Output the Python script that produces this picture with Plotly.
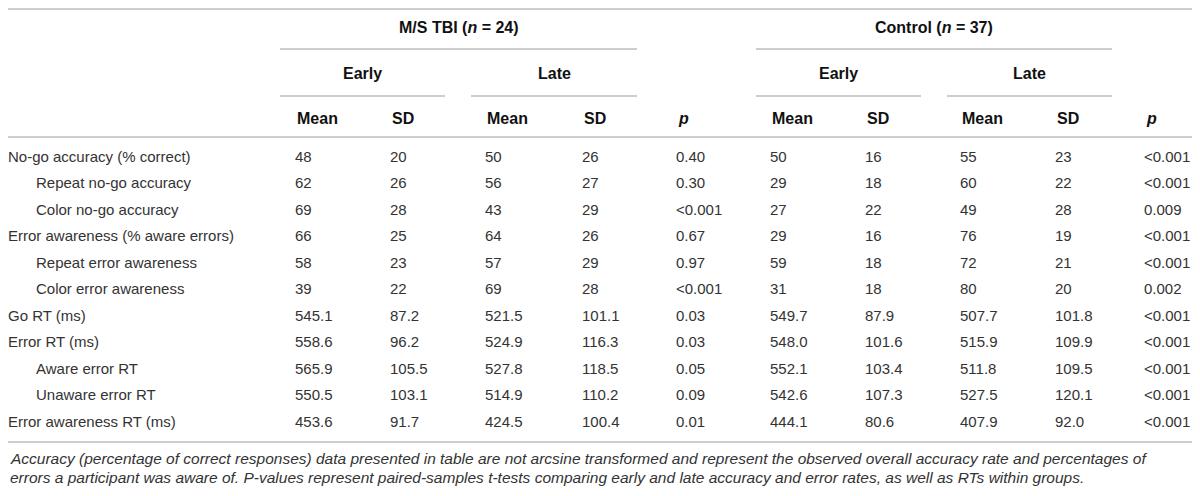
import plotly.graph_objects as go

# row labels (True = indented sub-row)
row_labels = [
    "No-go accuracy (% correct)", "Repeat no-go accuracy", "Color no-go accuracy",
    "Error awareness (% aware errors)", "Repeat error awareness", "Color error awareness",
    "Go RT (ms)", "Error RT (ms)", "Aware error RT", "Unaware error RT",
    "Error awareness RT (ms)",
]
indented = [False, True, True, False, True, True, False, False, True, True, False]

# M/S TBI (n = 24)
tbi_early_mean = ["48", "62", "69", "66", "58", "39", "545.1", "558.6", "565.9", "550.5", "453.6"]
tbi_early_sd = ["20", "26", "28", "25", "23", "22", "87.2", "96.2", "105.5", "103.1", "91.7"]
tbi_late_mean = ["50", "56", "43", "64", "57", "69", "521.5", "524.9", "527.8", "514.9", "424.5"]
tbi_late_sd = ["26", "27", "29", "26", "29", "28", "101.1", "116.3", "118.5", "110.2", "100.4"]
tbi_p = ["0.40", "0.30", "<0.001", "0.67", "0.97", "<0.001", "0.03", "0.03", "0.05", "0.09", "0.01"]

# Control (n = 37)
ctl_early_mean = ["50", "29", "27", "29", "59", "31", "549.7", "548.0", "552.1", "542.6", "444.1"]
ctl_early_sd = ["16", "18", "22", "16", "18", "18", "87.9", "101.6", "103.4", "107.3", "80.6"]
ctl_late_mean = ["55", "60", "49", "76", "72", "80", "507.7", "515.9", "511.8", "527.5", "407.9"]
ctl_late_sd = ["23", "22", "28", "19", "21", "20", "101.8", "109.9", "109.5", "120.1", "92.0"]
ctl_p = ["<0.001", "<0.001", "0.009", "<0.001", "<0.001", "0.002", "<0.001", "<0.001",
         "<0.001", "<0.001", "<0.001"]

groups = ["M/S TBI (<i>n</i> = 24)", "Control (<i>n</i> = 37)"]
periods = ["Early", "Late"]
sub_heads = ["Mean", "SD", "Mean", "SD", "p"]

footnote = [
    "Accuracy (percentage of correct responses) data presented in table are not arcsine "
    "transformed and represent the observed overall accuracy rate and percentages of",
    "errors a participant was aware of. P-values represent paired-samples t-tests comparing "
    "early and late accuracy and error rates, as well as RTs within groups.",
]

# layout: axes in page-pixel units (the page body has an 8px margin)
PAD = 8
W, H = 1200, 496
col_x = [295, 390, 485, 582, 676, 770, 865, 960, 1055, 1144]
row0, pitch = 158, 26.5
row_y = [row0 + pitch * i for i in range(len(row_labels))]
line_col = "#bdbdbd"
txt_col = "#333333"
FONT = "Liberation Sans, Arial, sans-serif"

columns = [tbi_early_mean, tbi_early_sd, tbi_late_mean, tbi_late_sd, tbi_p,
           ctl_early_mean, ctl_early_sd, ctl_late_mean, ctl_late_sd, ctl_p]

fig = go.Figure()

# row labels
fig.add_trace(go.Scatter(
    x=[36 if ind else 8 for ind in indented], y=row_y, text=row_labels,
    mode="text", textposition="middle right", cliponaxis=False,
    textfont=dict(family=FONT, size=15, color=txt_col),
    hoverinfo="skip", showlegend=False,
))

# data columns
for cx, vals in zip(col_x, columns):
    fig.add_trace(go.Scatter(
        x=[cx] * len(vals), y=row_y, text=vals,
        mode="text", textposition="middle right", cliponaxis=False,
        textfont=dict(family=FONT, size=15, color=txt_col),
        hoverinfo="skip", showlegend=False,
    ))

shapes = []

def hline(x0, x1, y):
    shapes.append(dict(type="line", xref="x", yref="y", x0=x0, x1=x1, y0=y, y1=y,
                       line=dict(color=line_col, width=1.6)))

# full-width rules
hline(0, 1195, 9)
hline(0, 1195, 137)
hline(0, 1195, 442)

annotations = []

def label(x, y, text, anchor="left", size=16, bold=True, italic=False, color="#111111"):
    t = text
    if italic:
        t = "<i>" + t + "</i>"
    if bold:
        t = "<b>" + t + "</b>"
    annotations.append(dict(x=x, y=y, xref="x", yref="y", text=t, showarrow=False,
                            xanchor=anchor, yanchor="middle",
                            font=dict(family=FONT, size=size, color=color)))

# group headers: span of the four Mean/SD columns
group_spans = [(280, 637, 471, 445), (756, 1112, 947, 921)]
for g, (gx0, gx1, late_x0, early_x1) in zip(groups, group_spans):
    label((gx0 + gx1) / 2, 27, g, anchor="center")
    hline(gx0, gx1, 49)
    label((gx0 + early_x1) / 2, 73, periods[0], anchor="center")
    label((late_x0 + gx1) / 2, 73, periods[1], anchor="center")
    hline(gx0, early_x1, 96)
    hline(late_x0, gx1, 96)

# Mean / SD / p headers
for k, cx in enumerate(col_x):
    head = sub_heads[k % 5]
    label(cx, 118, head, italic=(head == "p"))

# footnote
for i, line in enumerate(footnote):
    label(8, 458 + 19 * i, line, bold=False, italic=True, size=15.5, color=txt_col)

fig.update_layout(
    width=W - 2 * PAD, height=H - 2 * PAD,
    margin=dict(l=0, r=0, t=0, b=0),
    paper_bgcolor="white", plot_bgcolor="white",
    xaxis=dict(range=[PAD, W - PAD], visible=False, fixedrange=True),
    yaxis=dict(range=[H - PAD, PAD], visible=False, fixedrange=True),
    shapes=shapes, annotations=annotations,
)

fig.write_html("out.html")
